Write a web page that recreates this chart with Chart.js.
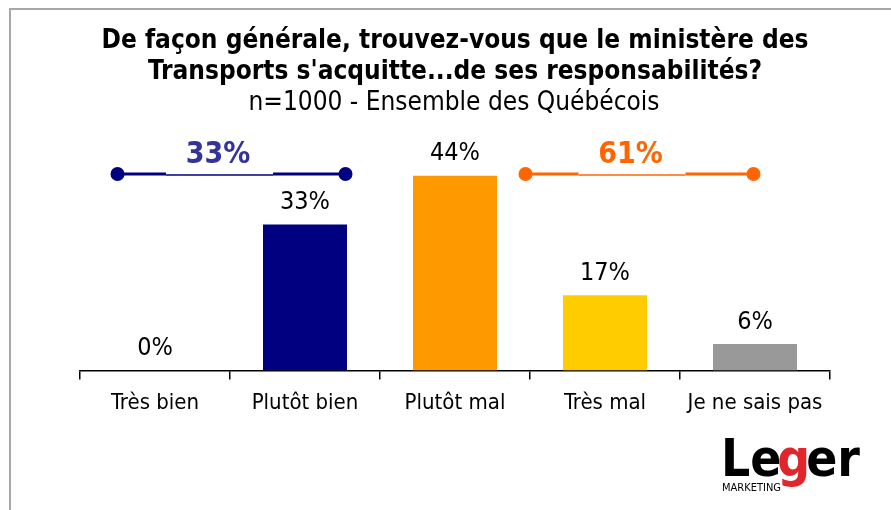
<!DOCTYPE html>
<html>
<head>
<meta charset="utf-8">
<script src="https://cdn.jsdelivr.net/npm/chart.js@4"></script>
<style>
  html, body { margin: 0; padding: 0; background: #fff; }
  #wrap { width: 891px; height: 510px; position: relative; }
</style>
</head>
<body>
<div id="wrap"><canvas id="myChart" width="891" height="510"></canvas></div>
<script>
const ctx = document.getElementById("myChart").getContext("2d");

// data
let categories = ["Très bien", "Plutôt bien", "Plutôt mal", "Très mal", "Je ne sais pas"];
let values = [0, 33, 44, 17, 6];
let barColors = ["#000080", "#000080", "#FF9900", "#FFCC00", "#999999"];
let netValues = [33, 61];
let netColors = ["#000080", "#FF6600"];
let netTextColors = ["#333399", "#FF6600"];
let titleLines = ["De façon générale, trouvez-vous que le ministère des", "Transports s'acquitte...de ses responsabilités?"];
let subtitle = "n=1000 - Ensemble des Québécois";

const FONT = "'DejaVu Sans Condensed', 'DejaVu Sans', sans-serif";

// title, frame and logo
const decor = {
    id: "decor",
    beforeDraw(chart) {
        let c = chart.ctx;
        c.save();
        c.fillStyle = "#fff";
        c.fillRect(0, 0, chart.width, chart.height);
        c.strokeStyle = "#a8a8a8";
        c.lineWidth = 2;
        c.beginPath();
        c.moveTo(10, 510);
        c.lineTo(10, 9);
        c.lineTo(891, 9);
        c.stroke();

        c.fillStyle = "#000";
        c.textAlign = "center";
        c.textBaseline = "middle";
        c.font = "bold 26px " + FONT;
        c.fillText(titleLines[0], 455, 41);
        c.fillText(titleLines[1], 455, 72);
        c.font = "26px " + FONT;
        c.fillText(subtitle, 454, 103);
        c.restore();
    },
    afterDraw(chart) {
        let c = chart.ctx;
        c.save();
        // logo
        c.textBaseline = "alphabetic";
        c.textAlign = "left";
        c.font = "bold 51px " + FONT;
        let x = 721;
        c.fillStyle = "#000";
        c.fillText("Le", x, 476);
        x += c.measureText("Le").width - 4;
        c.fillStyle = "#E0262B";
        c.fillText("g", x, 476);
        x += c.measureText("g").width - 4;
        c.fillStyle = "#000";
        c.fillText("er", x, 476);
        c.font = "11px " + FONT;
        c.fillText("MARKETING", 722, 491);
        c.restore();
    }
};

// value labels and net brackets
const labels = {
    id: "labels",
    afterDatasetsDraw(chart) {
        let c = chart.ctx;
        let xs = chart.scales.x;
        let ys = chart.scales.y;
        c.save();
        c.textAlign = "center";
        c.textBaseline = "middle";
        c.font = "25px " + FONT;
        c.fillStyle = "#000";
        for (let i = 0; i < values.length; i++) {
            c.fillText(values[i] + "%", xs.getPixelForValue(i), ys.getPixelForValue(values[i]) - 22);
        }

        let spans = [[-0.25, 1.27, 0.42], [2.47, 3.99, 3.17]];
        let lineY = 174;
        for (let k = 0; k < spans.length; k++) {
            let x1 = xs.getPixelForValue(spans[k][0]);
            let x2 = xs.getPixelForValue(spans[k][1]);
            let tx = xs.getPixelForValue(spans[k][2]);
            c.strokeStyle = netColors[k];
            c.fillStyle = netColors[k];
            c.lineWidth = 3;
            c.beginPath();
            c.moveTo(x1, lineY);
            c.lineTo(tx - 52, lineY);
            c.moveTo(tx + 55, lineY);
            c.lineTo(x2, lineY);
            c.stroke();
            c.lineWidth = 1.5;
            c.beginPath();
            c.moveTo(tx - 52, lineY + 1);
            c.lineTo(tx + 55, lineY + 1);
            c.stroke();
            c.beginPath();
            c.arc(x1, lineY, 7, 0, Math.PI * 2);
            c.fill();
            c.beginPath();
            c.arc(x2, lineY, 7, 0, Math.PI * 2);
            c.fill();
            c.font = "bold 30px " + FONT;
            c.fillStyle = netTextColors[k];
            c.fillText(netValues[k] + "%", tx, 155);
        }
        c.restore();
    }
};

const myChart = new Chart(ctx, {
    type: "bar",
    data: {
        labels: categories,
        datasets: [{
            data: values,
            backgroundColor: barColors,
            borderWidth: 0,
            categoryPercentage: 1,
            barPercentage: 0.56,
        }],
    },
    options: {
        responsive: false,
        animation: false,
        layout: {
            padding: { top: 127, left: 80, right: 61, bottom: 84 },
        },
        plugins: {
            legend: { display: false },
            tooltip: { enabled: false },
        },
        scales: {
            x: {
                offset: true,
                grid: {
                    offset: true,
                    drawOnChartArea: false,
                    drawTicks: true,
                    tickLength: 9,
                    color: "#000",
                    lineWidth: 1.5,
                },
                border: { display: true, color: "#000", width: 1.5 },
                ticks: {
                    color: "#000",
                    font: { family: FONT, size: 22 },
                    padding: 10,
                    maxRotation: 0,
                },
            },
            y: {
                display: false,
                min: 0,
                max: 55,
            },
        },
    },
    plugins: [decor, labels],
});
</script>
</body>
</html>
